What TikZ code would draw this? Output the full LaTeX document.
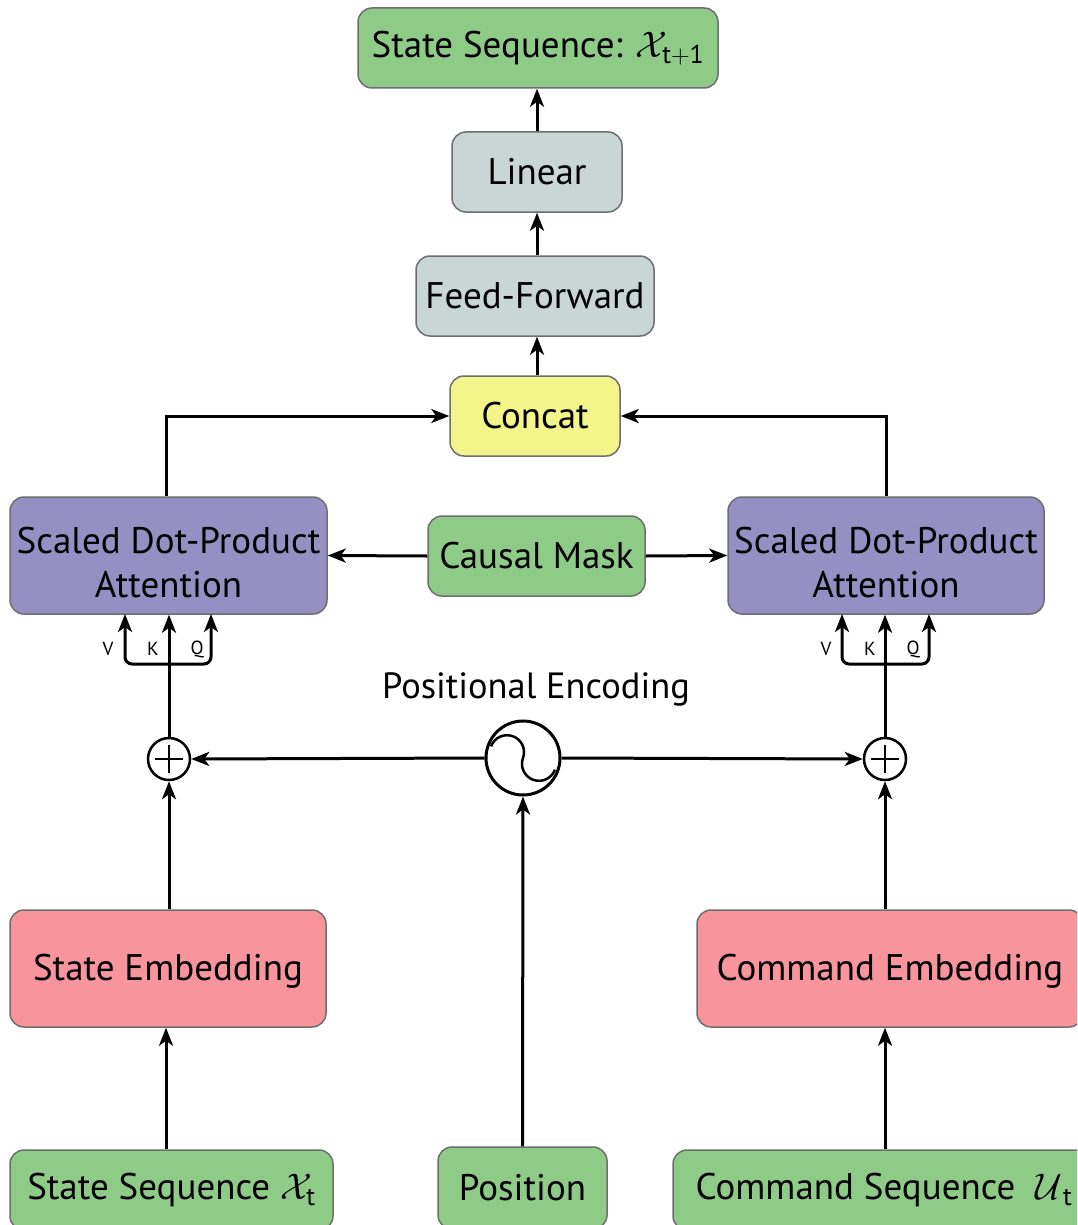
\RequirePackage{fix-cm}
\documentclass[tikz,border=0pt]{standalone}
\usepackage{fontspec}
\setmainfont{PT Sans}
\usetikzlibrary{arrows.meta,calc}
\definecolor{gbox}{RGB}{142,203,134}
\definecolor{lbox}{RGB}{201,214,214}
\definecolor{ybox}{RGB}{243,245,138}
\definecolor{pbox}{RGB}{149,143,196}
\definecolor{rbox}{RGB}{247,148,156}
\definecolor{bgray}{RGB}{110,110,110}
\newcommand{\lowtext}[2]{\raisebox{-#1}[\height][\depth]{\begin{tabular}{@{}c@{}}#2\end{tabular}}}
\tikzset{
  box/.style={draw=bgray, line width=1.5pt, rounded corners=14pt, align=center, inner sep=0pt,
    font=\fontsize{37}{45}\selectfont},
  arr/.style={line width=3pt, -{Stealth[length=18pt,width=14pt,inset=5pt]}},
  plusnode/.style={circle, draw, line width=2.5pt, minimum size=42pt, inner sep=0pt},
  lbl/.style={font=\fontsize{19}{22}\selectfont, inner sep=0pt}
}
\begin{document}
\begin{tikzpicture}[x=1pt,y=-1pt]
\clip (0,0) rectangle (1077,1225);
\fill[white] (0,0) rectangle (1077,1225);
% boxes
\node[box, fill=gbox, minimum width=360pt, minimum height=80pt] (top) at (538,48) {State Sequence: $\mathcal{X}_{\mathrm{t+1}}$};
\node[box, fill=lbox, minimum width=170pt, minimum height=80pt] (linear) at (537,172) {Linear};
\node[box, fill=lbox, minimum width=238pt, minimum height=80pt] (ff) at (535,296) {Feed-Forward};
\node[box, fill=ybox, minimum width=170pt, minimum height=80pt] (concat) at (535,416) {Concat};
\node[box, fill=pbox, minimum width=317pt, minimum height=117pt] (sdpaL) at (168.5,555.5) {\lowtext{11pt}{Scaled Dot-Product\\[-1pt]Attention}};
\node[box, fill=gbox, minimum width=217pt, minimum height=80pt] (mask) at (536.5,556) {Causal Mask};
\node[box, fill=pbox, minimum width=316pt, minimum height=117pt] (sdpaR) at (886,555.5) {\lowtext{11pt}{Scaled Dot-Product\\[-1pt]Attention}};
\node[box, fill=rbox, minimum width=316pt, minimum height=117pt] (stemb) at (168,968.5) {\lowtext{3pt}{State Embedding}};
\node[box, fill=rbox, minimum width=386pt, minimum height=117pt] (cmdemb) at (890,968.5) {\lowtext{3pt}{Command Embedding}};
\node[box, fill=gbox, minimum width=323pt, minimum height=80pt] (stseq) at (171.5,1190) {State Sequence $\mathcal{X}_{\mathrm{t}}$};
\node[box, fill=gbox, minimum width=169pt, minimum height=82pt] (pos) at (522.5,1188) {Position};
\node[box, fill=gbox, minimum width=422pt, minimum height=80pt] (cmdseq) at (884,1190) {Command Sequence\; $\mathcal{U}_{\,\mathrm{t}}$};
% positional encoding
\node[font=\fontsize{36.5}{40}\selectfont, inner sep=0pt] (pelabel) at (536,689) {Positional Encoding};
\node[circle, draw, line width=3pt, minimum size=74pt, inner sep=0pt] (sine) at (523,758) {};
\begin{scope}[shift={(sine.center)}, x=1pt, y=1pt, rotate=-20]
  \draw[line width=2.5pt] (-34,0) arc[start angle=180, end angle=0, radius=17] arc[start angle=180, end angle=360, radius=17];
\end{scope}
% plus nodes
\node[plusnode] (plusL) at (169,759) {};
\node[plusnode] (plusR) at (885,759) {};
\foreach \p in {plusL,plusR}{
  \draw[line width=2.5pt] ([xshift=-14pt]\p.center) -- ([xshift=14pt]\p.center);
  \draw[line width=2.5pt] ([yshift=-14pt]\p.center) -- ([yshift=14pt]\p.center);
}
% top chain
\draw[arr] (linear.north) -- (linear.north |- top.south);
\draw[arr] (ff.north -| linear.north) -- (linear.south);
\draw[arr] (concat.north -| linear.north) -- (ff.south -| linear.north);
\draw[arr] ([xshift=-2.5pt]sdpaL.north) |- (concat.west);
\draw[arr] (sdpaR.north) |- (concat.east);
\draw[arr] (mask.west) -- (sdpaL.east);
\draw[arr] (mask.east) -- (sdpaR.west);
% left V K Q
\coordinate (brL) at (169,664);
\coordinate (vL) at (125,614);
\coordinate (qL) at (211,614);
\draw[arr] (plusL.north) -- (plusL.north |- sdpaL.south);
\draw[arr, rounded corners=7pt] (brL) -| (vL);
\draw[arr, rounded corners=7pt] (brL) -| (qL);
\node[lbl] (vlabL) at (108,649) {V};
\node[lbl] (klabL) at (153,649) {K};
\node[lbl] (qlabL) at (197,649) {Q};
% right V K Q
\coordinate (brR) at (885,664);
\coordinate (vR) at (842,614);
\coordinate (qR) at (929,614);
\draw[arr] (plusR.north) -- (plusR.north |- sdpaR.south);
\draw[arr, rounded corners=7pt] (brR) -| (vR);
\draw[arr, rounded corners=7pt] (brR) -| (qR);
\node[lbl] (vlabR) at (826,649) {V};
\node[lbl] (klabR) at (870,649) {K};
\node[lbl] (qlabR) at (913,649) {Q};
% encoding arrows
\draw[arr] (sine.west) -- (plusL.east);
\draw[arr] (sine.east) -- (plusR.west);
\draw[arr] (pos.north) -- (sine.south);
% embeddings
\draw[arr] (plusL.south |- stemb.north) -- (plusL.south);
\draw[arr] ([xshift=-2pt]stemb.south |- stseq.north) -- ([xshift=-2pt]stemb.south);
\draw[arr] (plusR.south |- cmdemb.north) -- (plusR.south);
\draw[arr] (plusR.south |- cmdseq.north) -- (plusR.south |- cmdemb.south);
\end{tikzpicture}
\end{document}
